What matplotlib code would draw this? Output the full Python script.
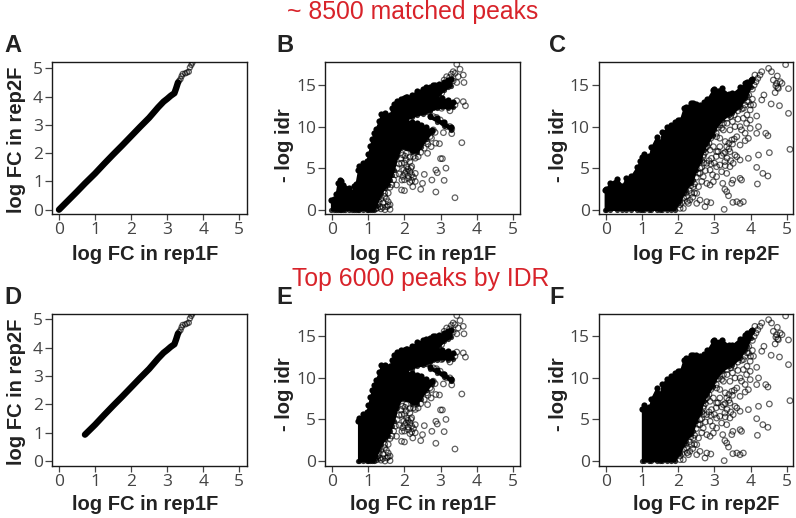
import numpy as np
import matplotlib
matplotlib.use("Agg")
import matplotlib.pyplot as plt

W, H = 796, 518

# A / D : log FC rep1F vs rep2F
ab_x = [0, 0.25, 0.5, 0.72, 1, 1.25, 1.5, 1.75, 2, 2.25, 2.5, 2.75, 2.9, 3.0, 3.1, 3.2, 3.25, 3.3]
ab_y = [0, 0.32, 0.64, 0.93, 1.28, 1.62, 1.95, 2.27, 2.6, 2.93, 3.25, 3.62, 3.82, 3.92, 4.03, 4.12, 4.3, 4.5]
ab_sparse_x = [3.33, 3.37, 3.4, 3.43, 3.5, 3.55, 3.6, 3.63, 3.67, 3.7]
ab_sparse_y = [4.55, 4.62, 4.72, 4.8, 4.82, 4.85, 4.88, 5.03, 5.12, 5.2]

# B / E : dense regions read as envelopes of -log idr over log FC rep1F
b_x  = [-0.03, 0.05, 0.1, 0.15, 0.2, 0.25, 0.3, 0.35, 0.45, 0.55, 0.6, 0.65, 0.72, 0.75, 0.85, 0.95, 1.0, 1.05, 1.1, 1.15, 1.2, 1.3, 1.35, 1.45, 1.55, 1.6, 1.65, 1.7, 1.8, 1.9, 2.0, 2.08]
b_hi = [1.2, 1.3, 1.9, 3.2, 3.6, 3.5, 3.0, 2.6, 2.6, 2.1, 2.8, 3.1, 4.8, 5.2, 5.6, 5.9, 6.7, 7.7, 8.5, 9.2, 9.7, 10.7, 11.5, 11.6, 11.2, 11.4, 12.2, 12.7, 13.1, 13.3, 13.4, 13.5]
b_lo = [0, 0, 0, 0, 0, 0, 0, 0, 0, 0, 0, 0, 0, 0, 0, 0, 0, 0, 0, 0, 0.4, 1.5, 2.0, 2.6, 3.0, 3.6, 4.2, 4.8, 6.4, 7.4, 7.5, 7.4]

b2_x  = [2.05, 2.2, 2.35, 2.45, 2.6, 2.75]
b2_lo = [7.4, 6.9, 6.9, 7.5, 8.5, 9.3]
b2_hi = [10.7, 10.6, 10.4, 10.2, 9.9, 9.6]

b3_x  = [2.05, 2.2, 2.34, 2.5, 2.6, 2.7, 2.8, 2.85, 2.95, 3.1, 3.2, 3.3]
b3_hi = [13.5, 13.8, 14.3, 14.5, 14.7, 14.8, 15.0, 15.0, 15.1, 15.4, 15.6, 15.7]
b3_lo = [10.9, 11.1, 11.4, 11.5, 11.7, 11.9, 12.2, 13.2, 13.8, 14.4, 14.7, 14.9]

b4_x  = [2.7, 2.9, 3.05, 3.2, 3.35]
b4_hi = [13.2, 13.3, 13.4, 13.2, 13.0]
b4_lo = [12.0, 12.2, 12.3, 12.2, 12.3]

b5_x  = [2.7, 2.9, 3.1, 3.3]
b5_hi = [11.3, 11.0, 10.5, 9.9]
b5_lo = [11.1, 10.6, 10.1, 9.6]

b_pts_x = [3.40, 2.87, 2.0, 1.92, 2.23, 2.45, 2.50, 2.76, 3.10, 2.55, 2.30, 2.87, 2.91, 3.15, 3.0, 3.05, 3.59, 3.08, 3.31, 2.87, 2.97, 2.74, 2.64, 2.38, 2.01, 1.93, 2.15, 2.06, 1.92, 2.15, 2.01, 2.11, 1.78, 1.6, 1.51, 1.41, 1.55, 1.32, 1.46, 3.45, 3.54, 3.63, 3.65, 3.35, 3.49, 3.45, 3.17, 3.63, 3.69, 3.45, 3.40, 3.26, 3.03, 3.26, 3.17, 2.99, 3.08, 2.89, 2.8, 3.31, 3.03, 2.8, 2.71, 2.62, 2.1, 2.2, 1.98, 2.05, 2.18, 1.85,
           1.2, 1.25, 1.3, 1.35, 1.4, 1.45, 1.5, 1.55, 1.6, 1.35, 1.25, 1.45, 1.55, 1.6, 1.65, 1.7, 1.75, 1.8, 1.85, 1.9, 1.95, 2.05, 2.15, 2.25, 2.3, 2.45, 2.55, 2.65, 2.75, 2.85, 2.05, 2.1, 2.15, 2.2, 2.0, 1.95, 2.0, 2.2, 2.25, 2.3, 3.3, 3.4, 3.25, 3.1, 3.35]
b_pts_y = [1.44, 2.13, 2.29, 2.37, 2.77, 2.45, 3.17, 3.57, 3.53, 4.25, 4.37, 4.77, 4.45, 5.0, 6.14, 6.14, 8.06, 9.27, 9.15, 8.0, 7.94, 7.58, 6.78, 6.38, 6.46, 3.57, 4.57, 5.17, 5.58, 5.78, 4.37, 3.77, 2.97, 0.04, 0.36, 0.84, 0.96, 0.36, 0.0, 17.5, 16.9, 16.2, 15.3, 16.6, 16.0, 15.3, 16.0, 13.0, 12.5, 13.1, 12.6, 11.9, 12.2, 10.0, 10.0, 10.8, 10.4, 11.1, 11.2, 9.7, 14.0, 9.6, 8.8, 8.2, 4.1, 3.5, 4.8, 6.0, 5.0, 4.3,
           0.1, 0.6, 0.9, 1.3, 0.3, 1.6, 1.3, 0.5, 0.6, 0.1, 0.2, 2.0, 2.0, 2.7, 3.0, 3.6, 4.2, 5.0, 5.5, 6.2, 6.6, 6.8, 6.3, 6.4, 6.2, 6.9, 7.4, 7.9, 8.6, 9.3, 4.6, 4.9, 3.3, 4.2, 3.6, 4.0, 5.6, 5.2, 3.9, 3.4, 16.3, 16.4, 15.9, 15.6, 15.5]

# C / F : dense region over log FC rep2F
c_x  = [-0.03, 0.0, 0.1, 0.3, 0.45, 0.55, 0.7, 0.85, 0.95, 1.0, 1.05, 1.2, 1.25, 1.4, 1.5, 1.55, 1.7, 1.8, 1.9, 2.0, 2.05, 2.15, 2.2, 2.35, 2.4, 2.5, 2.6, 2.7, 2.8, 2.95, 3.0, 3.2, 3.4, 3.5, 3.7, 3.85, 3.9, 4.0, 4.05]
c_hi = [2.4, 2.5, 3.2, 3.7, 2.9, 3.8, 4.1, 5.1, 5.9, 6.3, 6.7, 6.5, 7.5, 8.8, 8.1, 9.3, 9.9, 10.2, 10.6, 10.8, 10.8, 12.2, 12.4, 12.8, 12.8, 12.7, 12.6, 12.9, 13.3, 14.4, 14.5, 14.6, 13.9, 14.0, 14.7, 15.2, 15.4, 15.6, 15.7]
c_lo = [0, 0, 0, 0, 0, 0, 0, 0, 0, 0, 0, 0, 0, 0, 0, 0, 0, 0, 0, 0.8, 1.0, 2.0, 2.4, 3.2, 3.6, 4.8, 5.8, 7.2, 8.0, 9.0, 9.6, 10.8, 11.4, 11.6, 12.4, 13.4, 13.8, 14.8, 15.5]

c_pts_x = [3.27, 3.23, 3.29, 3.34, 3.39, 3.51, 3.62, 3.71, 3.80, 3.51, 3.48, 3.71, 3.75, 3.94, 4.22, 4.52, 4.17, 4.34, 4.48, 4.19, 5.09, 4.42, 4.48, 4.22, 4.17, 3.94, 3.85, 3.71, 3.62, 3.48, 3.43, 3.57, 3.71, 3.99, 4.17, 3.99, 3.89, 4.57, 4.80, 5.05, 5.05, 4.97, 4.50, 4.58, 4.74, 4.87, 4.68, 4.77, 4.63, 4.82, 4.31, 4.12, 4.26, 4.37, 4.31, 4.08, 3.94, 3.99, 3.80, 2.79, 2.90, 2.74, 2.60, 2.51, 2.56, 2.42, 2.37, 2.23, 2.28, 2.14, 2.05, 2.51, 2.32, 2.97, 3.06, 2.88, 3.15, 3.25, 3.34, 3.43, 3.57, 3.29, 3.06, 3.15, 2.79, 2.88, 2.69, 2.60, 2.79, 2.69, 2.92, 3.43, 3.52, 3.20, 3.06, 3.34, 3.62, 3.71, 3.06, 3.25, 2.97, 2.88, 3.1, 3.2, 3.3, 3.4, 3.35, 3.3, 3.45, 3.0, 2.9, 2.95, 3.05, 2.75, 2.8, 2.65, 2.7, 2.6, 3.15, 3.3, 3.4, 3.5, 3.55, 3.2, 3.35, 3.5, 3.65, 3.8, 3.9, 3.75, 3.85,
           2.05, 2.1, 2.15, 2.2, 2.3, 2.35, 2.25, 2.4, 2.45, 2.5, 2.55, 2.6, 2.65, 2.7, 2.75, 2.85, 2.9, 2.95, 3.05, 3.1, 3.15, 3.25, 3.35, 3.45, 3.55, 3.65, 3.75, 3.85, 3.9, 3.95, 4.05, 4.1, 4.15, 4.2, 4.0, 4.05, 2.85, 2.75, 2.65, 2.45, 4.7, 4.72, 4.75]
c_pts_y = [0.04, 3.17, 2.45, 2.17, 1.68, 0.88, 0.96, 0.76, 0.96, 3.57, 3.17, 3.77, 3.57, 6.18, 6.58, 6.86, 5.09, 4.37, 4.05, 3.09, 7.26, 9.19, 8.9, 9.99, 9.19, 8.58, 8.3, 7.78, 8.78, 8.38, 9.59, 9.99, 9.99, 9.79, 11.27, 10.79, 10.39, 12.72, 12.51, 11.59, 14.56, 17.45, 17.0, 16.6, 16.08, 15.2, 14.08, 14.6, 15.6, 15.4, 16.6, 16.2, 16.2, 13.8, 13.2, 12.6, 13.0, 12.0, 12.2, 0.96, 0.84, 0.36, 1.16, 1.97, 2.77, 2.77, 1.97, 1.56, 0.76, 0.16, 0.16, 0.76, 1.16, 3.37, 3.97, 2.97, 5.38, 6.78, 7.58, 6.98, 6.58, 5.78, 6.98, 7.58, 5.58, 4.77, 3.97, 4.37, 3.17, 6.38, 6.18, 5.17, 5.58, 4.57, 5.17, 4.37, 6.38, 5.98, 8.78, 9.59, 7.58, 7.18, 7.0, 6.5, 6.9, 7.3, 6.2, 5.3, 5.9, 5.6, 5.5, 4.2, 6.4, 6.9, 7.6, 5.1, 5.6, 6.0, 8.6, 8.2, 8.0, 7.9, 8.5, 9.8, 10.4, 10.6, 10.9, 11.0, 11.4, 9.6, 9.2,
           0.6, 0.9, 1.4, 2.0, 2.3, 2.9, 1.0, 1.5, 3.1, 3.9, 4.4, 5.0, 5.9, 6.6, 7.4, 8.0, 8.6, 8.9, 9.2, 9.9, 10.2, 10.4, 11.0, 11.2, 11.4, 11.9, 12.1, 12.6, 13.0, 13.8, 14.5, 15.0, 15.4, 15.8, 12.6, 13.3, 5.9, 4.7, 3.4, 2.0, 14.9, 15.2, 14.7]

x_ticks = [0, 1, 2, 3, 4, 5]
fc_ticks = [0, 1, 2, 3, 4, 5]
idr_ticks = [0, 5, 10, 15]
RED = "#d8232a"
INK = "#222222"
TICKC = "#444444"
SANS = "Open Sans"
BOLD = "Liberation Sans"

fig = plt.figure(figsize=(W / 100, H / 100), dpi=100)
fig.patch.set_facecolor("white")


def make_axes(left, right, top, bottom, x0px, x5px, y0px, ytoppx, ytopval):
    ax = fig.add_axes([left / W, 1 - bottom / H, (right - left) / W, (bottom - top) / H])
    ppx = (x5px - x0px) / 5
    ppy = (y0px - ytoppx) / ytopval
    ax.set_xlim((left - x0px) / ppx, (right - x0px) / ppx)
    ax.set_ylim((y0px - bottom) / ppy, (y0px - top) / ppy)
    ax.tick_params(axis="x", length=4, width=0.9, color=TICKC, labelsize=12.5,
                   labelcolor="#444444", pad=1.5)
    ax.tick_params(axis="y", length=5, width=0.9, color=TICKC, labelsize=12.5,
                   labelcolor="#444444", pad=1.5)
    for sp in ax.spines.values():
        sp.set_linewidth(1.0)
        sp.set_color("#1a1a1a")
    return ax


def finish(ax, letter, lx, ly, xlabel, ylabel, yticks, xl_x, xl_y, yl_x, yl_y):
    ax.set_yticks(yticks)
    ax.set_xticks(x_ticks)
    for lab in list(ax.get_xticklabels()) + list(ax.get_yticklabels()):
        lab.set_fontfamily(SANS)
    fig.text(xl_x / W, 1 - xl_y / H, xlabel, ha="center", va="center", fontsize=14.5,
             fontweight="bold", family=BOLD, color=INK)
    fig.text(yl_x / W, 1 - yl_y / H, ylabel, ha="center", va="center", rotation=90,
             fontsize=14.5, fontweight="bold", family=BOLD, color=INK)
    fig.text(lx / W, 1 - ly / H, letter, ha="left", va="center", fontsize=17,
             fontweight="bold", family=BOLD, color=INK)


def hollow(ax, xs, ys, thr):
    xs, ys = np.array(xs), np.array(ys)
    m = xs >= thr
    ax.scatter(xs[m], ys[m], s=16, facecolors="none", edgecolors=(0, 0, 0, 0.62),
               linewidths=0.9, clip_on=True, zorder=3)


def band(ax, x, lo, hi, thr):
    x, lo, hi = np.array(x), np.array(lo), np.array(hi)
    m = x >= thr
    ax.fill_between(x[m], lo[m], hi[m], facecolor="black", edgecolor="black",
                    linewidth=1.2, joinstyle="round", zorder=2)
    ax.scatter(x[m], hi[m], s=20, color="black", linewidths=0, zorder=2)
    ax.scatter(x[m], lo[m], s=14, color=(0, 0, 0, 0.8), linewidths=0, zorder=2)


def line_panel(ax, thr):
    x, y = np.array(ab_x), np.array(ab_y)
    m = x >= thr
    ax.plot(x[m], y[m], color="black", lw=4.6, solid_capstyle="round", solid_joinstyle="round", zorder=2)
    xs, ys = np.array(ab_sparse_x), np.array(ab_sparse_y)
    ax.scatter(xs, ys, s=13, facecolors="none", edgecolors=(0, 0, 0, 0.62), linewidths=1.0, zorder=3)


def b_panel(ax, thr):
    band(ax, b_x, b_lo, b_hi, thr)
    band(ax, b2_x, b2_lo, b2_hi, thr)
    band(ax, b3_x, b3_lo, b3_hi, thr)
    band(ax, b4_x, b4_lo, b4_hi, thr)
    band(ax, b5_x, b5_lo, b5_hi, thr)
    hollow(ax, b_pts_x, b_pts_y, thr)


def c_panel(ax, thr):
    band(ax, c_x, c_lo, c_hi, thr)
    hollow(ax, c_pts_x, c_pts_y, thr)


rows = [
    dict(top=62, bottom=214, y0=209.7, y5=68.3, y15=85.0, xl=255, l_y=45, yl_a=140, yl_b=145,
         thr_a=-1, thr_b=-1, thr_c=-1, letters="ABC"),
    dict(top=314.3, bottom=466.3, y0=461.0, y5=319.3, y15=336.3, xl=505, l_y=298, yl_a=392, yl_b=394,
         thr_a=0.72, thr_b=0.72, thr_c=0.97, letters="DEF"),
]
for r in rows:
    a = make_axes(52, 247, r["top"], r["bottom"], 59, 239.3, r["y0"], r["y5"], 5)
    line_panel(a, r["thr_a"])
    finish(a, r["letters"][0], 4, r["l_y"], "log FC in rep1F", "log FC in rep2F", fc_ticks, 145, r["xl"], 17, r["yl_a"])

    b = make_axes(325, 520, r["top"], r["bottom"], 332.3, 512.7, r["y0"], r["y15"], 15)
    b_panel(b, r["thr_b"])
    finish(b, r["letters"][1], 276, r["l_y"], "log FC in rep1F", "- log idr", idr_ticks, 423, r["xl"], 285, r["yl_b"])

    c = make_axes(598.7, 793, r["top"], r["bottom"], 606, 786.7, r["y0"], r["y15"], 15)
    c_panel(c, r["thr_c"])
    finish(c, r["letters"][2], 549, r["l_y"], "log FC in rep2F", "- log idr", idr_ticks, 706, r["xl"], 558, r["yl_b"])

fig.text(413 / W, 1 - 12 / H, "~ 8500 matched peaks", ha="center", va="center", color=RED,
         fontsize=17.8, family=BOLD)
fig.text(420.5 / W, 1 - 279 / H, "Top 6000 peaks by IDR", ha="center", va="center", color=RED,
         fontsize=17.8, family=BOLD)

fig.savefig("out.png", dpi=100)
